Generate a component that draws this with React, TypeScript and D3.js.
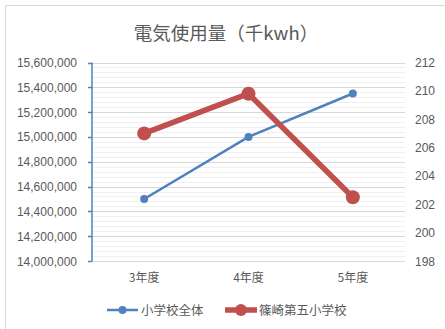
import React from "react";
import * as d3 from "d3";

// Fiscal years along the x axis
const years = ["3年度", "4年度", "5年度"];
// Electricity use of all elementary schools (thousand kWh), left axis
const allSchools = [14500000, 15000000, 15350000];
// Electricity use of Shinozaki No.5 Elementary (thousand kWh), right axis
const shinozaki5 = [207.0, 209.8, 202.5];

const seriesNames = ["小学校全体", "篠崎第五小学校"];
const leftTicks = d3.range(14000000, 15600001, 200000);
const rightTicks = d3.range(198, 213, 2);

const W = 445;
const H = 329;
const plot = { left: 92, right: 405, top: 62.5, bottom: 261 };
const BLUE = "#4f81bd";
const RED = "#c0504d";
const TEXT = "#595959";
const JP = "'Noto Sans CJK JP', 'Noto Sans', sans-serif";
const NUM = "'Liberation Sans', Arial, sans-serif";

export default function App() {
  const x = d3
    .scaleBand<string>()
    .domain(years)
    .range([plot.left, plot.right]);
  const yL = d3
    .scaleLinear()
    .domain([14000000, 15600000])
    .range([plot.bottom, plot.top]);
  const yR = d3.scaleLinear().domain([198, 212]).range([plot.bottom, plot.top]);
  const cx = (d: string) => (x(d) as number) + x.bandwidth() / 2;

  const minorTicks = d3.range(14000000, 15600001, 40000);
  const fmt = d3.format(",");

  const blueLine = d3
    .line<number>()
    .x((_, i) => cx(years[i]))
    .y((v) => yL(v))(allSchools) as string;
  const redLine = d3
    .line<number>()
    .x((_, i) => cx(years[i]))
    .y((v) => yR(v))(shinozaki5) as string;

  return (
    <svg
      width={W}
      height={H}
      style={{ position: "absolute", left: 0, top: 0, background: "#fff" }}
    >
      <rect x={5.5} y={5.5} width={W} height={H} fill="#fff" stroke="#d9d9d9" />
      <text
        x={226}
        y={40}
        textAnchor="middle"
        fontFamily={JP}
        fontSize={18.5}
        fill={TEXT}
      >
        電気使用量（千kwh）
      </text>

      {/* minor gridlines */}
      {minorTicks.map((t) => (
        <line
          key={"m" + t}
          x1={plot.left}
          x2={plot.right}
          y1={Math.round(yL(t)) + 0.5}
          y2={Math.round(yL(t)) + 0.5}
          stroke="#efefef"
        />
      ))}
      {/* major gridlines */}
      {leftTicks.map((t) => (
        <line
          key={"g" + t}
          x1={plot.left}
          x2={plot.right}
          y1={Math.round(yL(t)) + 0.5}
          y2={Math.round(yL(t)) + 0.5}
          stroke="#d9d9d9"
        />
      ))}

      {/* left axis */}
      <line
        x1={plot.left}
        x2={plot.left}
        y1={plot.top}
        y2={plot.bottom + 0.5}
        stroke={BLUE}
        strokeWidth={1.5}
      />
      {leftTicks.map((t) => (
        <g key={"l" + t}>
          <line
            x1={plot.left - 4}
            x2={plot.left}
            y1={Math.round(yL(t)) + 0.5}
            y2={Math.round(yL(t)) + 0.5}
            stroke={BLUE}
            strokeWidth={1.5}
          />
          <text
            x={77}
            y={yL(t) + 4.5}
            textAnchor="end"
            fontFamily={NUM}
            fontSize={12}
            fill={TEXT}
          >
            {fmt(t)}
          </text>
        </g>
      ))}

      {/* right axis labels */}
      {rightTicks.map((t) => (
        <text
          key={"r" + t}
          x={415}
          y={yR(t) + 4.5}
          fontFamily={NUM}
          fontSize={12}
          fill={TEXT}
        >
          {t}
        </text>
      ))}

      {/* category labels */}
      {years.map((yv) => (
        <text
          key={yv}
          x={cx(yv)}
          y={282}
          textAnchor="middle"
          fontFamily={JP}
          fontSize={12}
          fill={TEXT}
        >
          {yv}
        </text>
      ))}

      {/* series */}
      <path d={blueLine} fill="none" stroke={BLUE} strokeWidth={2.5} />
      {allSchools.map((v, i) => (
        <circle key={"b" + i} cx={cx(years[i])} cy={yL(v)} r={4} fill={BLUE} />
      ))}
      <path
        d={redLine}
        fill="none"
        stroke={RED}
        strokeWidth={5.5}
        strokeLinejoin="round"
      />
      {shinozaki5.map((v, i) => (
        <circle key={"r" + i} cx={cx(years[i])} cy={yR(v)} r={7} fill={RED} />
      ))}

      {/* legend */}
      <g>
        <line x1={107} x2={138} y1={310} y2={310} stroke={BLUE} strokeWidth={2.5} />
        <circle cx={122.5} cy={310} r={4} fill={BLUE} />
        <text x={141} y={314.5} fontFamily={JP} fontSize={12.5} fill={TEXT}>
          {seriesNames[0]}
        </text>
        <line x1={225} x2={257} y1={310} y2={310} stroke={RED} strokeWidth={5.5} />
        <circle cx={241} cy={310} r={6} fill={RED} />
        <text x={259} y={314.5} fontFamily={JP} fontSize={12.5} fill={TEXT}>
          {seriesNames[1]}
        </text>
      </g>
    </svg>
  );
}
